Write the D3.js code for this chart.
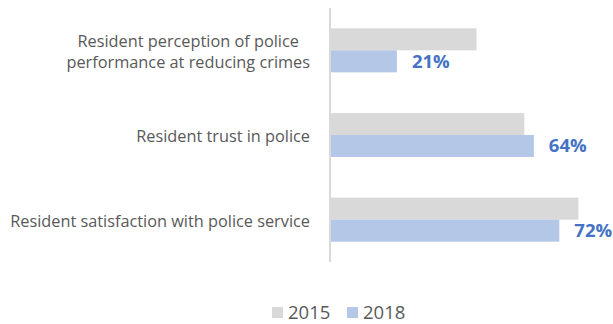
<!DOCTYPE html>
<html>
<head>
<meta charset="utf-8">
<script src="https://cdn.jsdelivr.net/npm/d3@7"></script>
<style>
  body { margin: 0; background: #fff; }
  text { font-family: "Open Sans", "Noto Sans", sans-serif; }
</style>
</head>
<body>
<svg id="chart" width="613" height="324"></svg>
<script>
// Chart data
const categories = [
  ["Resident perception of police", "performance at reducing crimes"],
  ["Resident trust in police"],
  ["Resident satisfaction with police service"]
];
const years = ["2015", "2018"];
const values2015 = [46, 61, 78];
const values2018 = [21, 64, 72];

const colors = { "2015": "#D9D9D9", "2018": "#B4C7E7" };

const svg = d3.select("#chart");
const axisX = 330;

const x = d3.scaleLinear()
  .domain([0, 100])
  .range([axisX, axisX + 318.5]);

const y = d3.scaleBand()
  .domain(d3.range(categories.length))
  .range([8, 262])
  .paddingInner(0.48)
  .paddingOuter(0.24);

const sub = d3.scaleBand()
  .domain(years)
  .range([0, y.bandwidth()]);

const rows = categories.map((c, i) => ({ idx: i, lines: c, v2015: values2015[i], v2018: values2018[i] }));

// Bars
const g = svg.append("g");
rows.forEach(r => {
  years.forEach(yr => {
    const v = yr === "2015" ? r.v2015 : r.v2018;
    g.append("rect")
      .attr("x", x(0))
      .attr("y", y(r.idx) + sub(yr))
      .attr("width", x(v) - x(0))
      .attr("height", sub.bandwidth())
      .attr("fill", colors[yr]);
  });
  // value label on 2018
  g.append("text")
    .attr("x", x(r.v2018) + 15)
    .attr("y", y(r.idx) + sub("2018") + sub.bandwidth() / 2 + 1.5)
    .attr("dominant-baseline", "middle")
    .attr("fill", "#4472C4")
    .attr("font-weight", "bold")
    .attr("font-size", 18.5)
    .text(r.v2018 + "%");
});

// Axis line
svg.append("line")
  .attr("x1", axisX).attr("x2", axisX)
  .attr("y1", 8).attr("y2", 262)
  .attr("stroke", "#D9D9D9")
  .attr("stroke-width", 2);

// Category labels (multi-line labels are centred within their block, block right edge at 310)
const labelSize = 15;
const labels = [];
rows.forEach(r => {
  const cy = y(r.idx) + y.bandwidth() / 2;
  const lh = 21.5;
  const t = svg.append("text")
    .attr("text-anchor", "middle")
    .attr("fill", "#595959")
    .attr("font-size", labelSize);
  r.lines.forEach((ln, j) => {
    t.append("tspan")
      .attr("y", cy + 1.3 + (j - (r.lines.length - 1) / 2) * lh)
      .attr("dy", "0.35em")
      .text(ln);
  });
  labels.push(t);
});
// fit the longest label to ~300px like the original
const longest = labels[2].node().getComputedTextLength();
const fitSize = labelSize * 300 / longest;
labels.forEach(t => {
  t.attr("font-size", fitSize);
  const tspans = t.selectAll("tspan").nodes();
  const maxW = d3.max(tspans, n => n.getComputedTextLength());
  t.selectAll("tspan").attr("x", 310 - maxW / 2);
});

// Legend
const legend = svg.append("g");
const legendX = [272, 347];
years.forEach((yr, i) => {
  legend.append("rect")
    .attr("x", legendX[i]).attr("y", 307)
    .attr("width", 11).attr("height", 11)
    .attr("fill", colors[yr]);
  legend.append("text")
    .attr("x", legendX[i] + 16).attr("y", 319)
    .attr("fill", "#595959")
    .attr("font-size", 18.5)
    .text(yr);
});
</script>
</body>
</html>
